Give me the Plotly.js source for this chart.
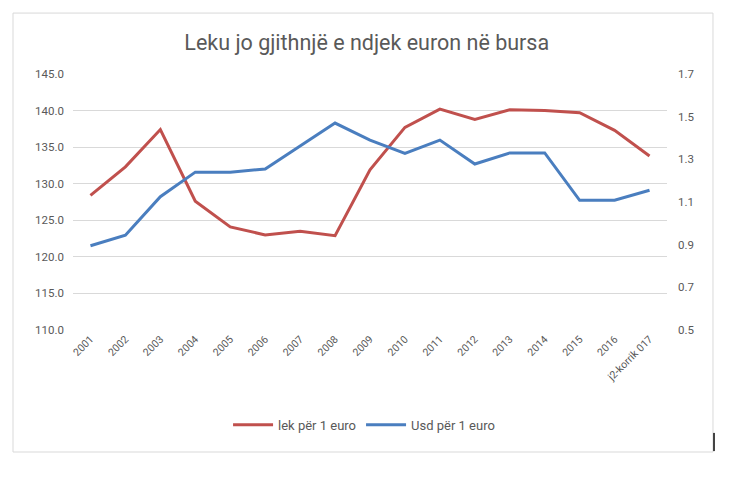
<!DOCTYPE html>
<html>
<head>
<meta charset="utf-8">
<script src="https://cdn.plot.ly/plotly-3.0.1.min.js"></script>
<style>html,body{margin:0;padding:0;background:#fff;}#chart{width:750px;height:477px;}</style>
</head>
<body>
<div id="chart"></div>
<script>
const years = ["2001","2002","2003","2004","2005","2006","2007","2008","2009","2010","2011","2012","2013","2014","2015","2016","j2-korrik 017"];
const lekPerEuro = [128.4, 132.3, 137.4, 127.6, 124.1, 123.0, 123.5, 122.9, 131.9, 137.7, 140.2, 138.8, 140.1, 140.0, 139.7, 137.3, 133.8];
const usdPerEuro = [0.895, 0.944, 1.125, 1.240, 1.240, 1.255, 1.362, 1.470, 1.390, 1.328, 1.390, 1.278, 1.330, 1.330, 1.108, 1.108, 1.155];
const leftTicks = [110, 115, 120, 125, 130, 135, 140, 145];
const rightTicks = [0.5, 0.7, 0.9, 1.1, 1.3, 1.5, 1.7];

const font = "Roboto, 'Open Sans', sans-serif";
const grey = "#595959";

const data = [
  {x: years, y: lekPerEuro, name: "lek për 1 euro", type: "scatter", mode: "lines",
   line: {color: "#C0504D", width: 3}, yaxis: "y"},
  {x: years, y: usdPerEuro, name: "Usd për 1 euro", type: "scatter", mode: "lines",
   line: {color: "#4A7EBF", width: 3}, yaxis: "y2"}
];

const layout = {
  width: 750, height: 477,
  margin: {l: 73, r: 83, t: 74, b: 147},
  paper_bgcolor: "#fff", plot_bgcolor: "#fff",
  font: {family: font, color: grey, size: 11},
  title: {text: "Leku jo gjithnjë e ndjek euron në bursa", x: 0.489, xanchor: "center", y: 0.912, yanchor: "middle",
          font: {family: font, size: 21.5, color: grey}},
  showlegend: true,
  legend: {orientation: "h", x: 0.49, xanchor: "center", y: -0.37, yanchor: "middle",
           font: {family: font, size: 13, color: grey}, itemwidth: 40, tracegroupgap: 0},
  xaxis: {type: "category", tickangle: -45, tickfont: {size: 10.5, color: grey}, showgrid: false,
          showline: false, zeroline: false, ticks: "", range: [-0.5, 16.5]},
  yaxis: {range: [110, 145], tickvals: leftTicks, tickformat: ".1f", showgrid: true, gridcolor: "#d9d9d9",
          gridwidth: 1, zeroline: false, showline: false, ticks: "", ticklabelstandoff: 8,
          tickfont: {size: 11.5, color: grey}},
  yaxis2: {range: [0.5, 1.7], tickvals: rightTicks, tickformat: ".1f", overlaying: "y", side: "right",
           showgrid: false, zeroline: false, showline: false, ticks: "", ticklabelstandoff: 10,
           tickfont: {size: 11.5, color: grey}},
  shapes: [
    {type: "rect", xref: "paper", yref: "paper", x0: -0.101, x1: 1.0774, y0: -0.4766, y1: 1.238,
     line: {color: "#d9d9d9", width: 1}, fillcolor: "rgba(0,0,0,0)"},
    {type: "line", xref: "paper", yref: "paper", x0: 1.0791, x1: 1.0791, y0: -0.402, y1: -0.473,
     line: {color: "#444", width: 2}}
  ]
};

Plotly.newPlot("chart", data, layout, {displayModeBar: false, staticPlot: true});
</script>
</body>
</html>
